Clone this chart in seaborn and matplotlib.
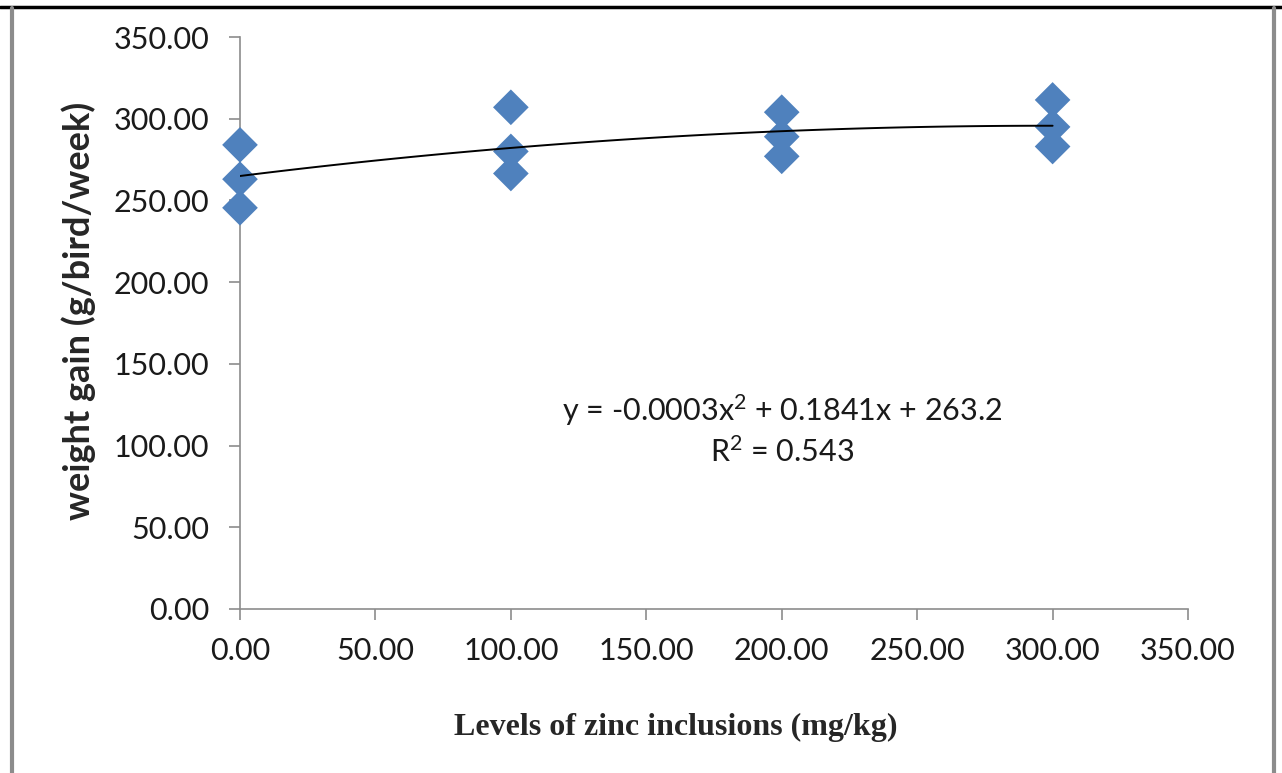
import seaborn as sns
import matplotlib.pyplot as plt
from matplotlib.lines import Line2D
from matplotlib.ticker import FormatStrFormatter, MultipleLocator
import pandas as pd

# zinc levels (mg/kg) and weight gain replicates (g/bird/week)
zinc = [0, 0, 0, 100, 100, 100, 200, 200, 200, 300, 300, 300]
gain = [284.0, 263.0, 245.5, 307.0, 280.0, 266.5, 304.0, 289.0, 277.0, 311.5, 295.0, 283.0]
eq_text = "y = -0.0003x$^2$ + 0.1841x + 263.2"
r2_text = "R$^2$ = 0.543"

df = pd.DataFrame({"zinc": zinc, "gain": gain})

sns.set_style("white")
plt.rcParams['font.family'] = ['Lato', 'DejaVu Sans']
plt.rcParams['mathtext.fontset'] = 'custom'
plt.rcParams['mathtext.rm'] = 'Lato'
plt.rcParams['mathtext.it'] = 'Lato'

fig = plt.figure(figsize=(12.82, 7.73), dpi=100)
ax = fig.add_axes([0.1872, 0.2122, 0.7395, 0.7399])

sns.regplot(data=df, x="zinc", y="gain", order=2, ci=None, marker="D", ax=ax,
            scatter_kws=dict(s=330, color="#4F81BD", edgecolors="none", alpha=1,
                             zorder=2, clip_on=False),
            line_kws=dict(color="black", lw=1.4, zorder=3))

ax.set_xlim(0, 350)
ax.set_ylim(0, 350)
ax.xaxis.set_major_locator(MultipleLocator(50))
ax.yaxis.set_major_locator(MultipleLocator(50))
ax.xaxis.set_major_formatter(FormatStrFormatter("%.2f"))
ax.yaxis.set_major_formatter(FormatStrFormatter("%.2f"))

for s in ["top", "right"]:
    ax.spines[s].set_visible(False)
for s in ["left", "bottom"]:
    ax.spines[s].set_color("#8C8C8C")
    ax.spines[s].set_linewidth(1.2)
    ax.spines[s].set_zorder(1)
ax.tick_params(axis="both", colors="#8C8C8C", length=8, width=1.2, labelsize=22,
               labelcolor="#1A1A1A", direction="out", bottom=True, left=True)
ax.tick_params(axis="x", pad=12)
ax.tick_params(axis="y", pad=14)
ax.set_xlabel("")
ax.set_ylabel("")

ax.text(0.572, 0.347, eq_text, transform=ax.transAxes, ha="center", va="center",
        fontsize=22, color="#1A1A1A")
ax.text(0.572, 0.275, r2_text, transform=ax.transAxes, ha="center", va="center",
        fontsize=22, color="#1A1A1A")

fig.text(0.061, 0.598, "weight gain (g/bird/week)", rotation=90, ha="center", va="center",
         fontsize=26, fontweight="bold")
fig.text(0.527, 0.059, "Levels of zinc inclusions (mg/kg)", ha="center", va="center",
         fontsize=23, fontweight="bold", family="Liberation Serif")

# page frame around the figure
fig.add_artist(Line2D([0.0, 1.0], [0.991, 0.991], color="black", lw=2.5))
fig.add_artist(Line2D([0.0095, 0.0095], [0.0, 0.99], color="#8C8C8C", lw=3))
fig.add_artist(Line2D([0.9935, 0.9935], [0.0, 0.99], color="#8C8C8C", lw=3))

fig.savefig("out.png", dpi=100)
